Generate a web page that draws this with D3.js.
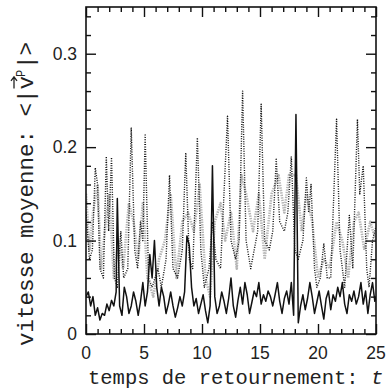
<!DOCTYPE html>
<html>
<head>
<meta charset="utf-8">
<script src="https://cdn.jsdelivr.net/npm/d3@7"></script>
<style>
  body { margin: 0; background: #fff; }
  .tickLabel { font-family: "Liberation Sans", Arial, sans-serif; font-size: 17.5px; fill: #222; }
  .axisTitle { font-family: "Liberation Mono", "DejaVu Sans Mono", monospace; fill: #222; }
</style>
</head>
<body>
<script>

// solid curve: times and values
var solidT = [0, 0.2, 0.4, 0.6, 0.8, 1.0, 1.2, 1.4, 1.6, 1.8, 2.0, 2.2, 2.4, 2.6, 2.7, 2.9,
  3.1, 3.3, 3.5, 3.7, 3.9, 4.1, 4.3, 4.5, 4.7, 4.9, 5.1, 5.3, 5.5, 5.7, 5.9, 6.1, 6.3, 6.5,
  6.7, 6.9, 7.1, 7.3, 7.5, 7.7, 7.9, 8.1, 8.3, 8.5, 8.7, 8.9, 9.1, 9.3, 9.5, 9.7, 9.9, 10.1,
  10.3, 10.5, 10.7, 10.9, 11.1, 11.3, 11.5, 11.7, 11.9, 12.1, 12.3, 12.5, 12.7, 12.9, 13.1,
  13.3, 13.5, 13.7, 13.9, 14.1, 14.3, 14.5, 14.7, 14.9, 15.1, 15.3, 15.5, 15.7, 15.9, 16.1,
  16.3, 16.5, 16.7, 16.9, 17.1, 17.3, 17.5, 17.7, 17.9, 18.1, 18.3, 18.5, 18.7, 18.9, 19.1,
  19.3, 19.5, 19.7, 19.9, 20.1, 20.3, 20.5, 20.7, 20.9, 21.1, 21.3, 21.5, 21.7, 21.9, 22.1,
  22.3, 22.5, 22.7, 22.9, 23.1, 23.3, 23.5, 23.7, 23.9, 24.1, 24.3, 24.5, 24.7, 24.9, 25.0];
var solidV = [0.04, 0.045, 0.03, 0.04, 0.02, 0.028, 0.015, 0.022, 0.02, 0.032, 0.025, 0.036, 0.03, 0.045, 0.145, 0.03,
  0.02, 0.05, 0.04, 0.022, 0.03, 0.045, 0.035, 0.02, 0.035, 0.055, 0.03, 0.045, 0.085, 0.06, 0.1, 0.05, 0.03, 0.05,
  0.04, 0.022, 0.032, 0.045, 0.03, 0.018, 0.028, 0.04, 0.03, 0.045, 0.105, 0.095, 0.05, 0.03, 0.038, 0.022, 0.032, 0.042,
  0.025, 0.012, 0.03, 0.18, 0.04, 0.022, 0.03, 0.045, 0.035, 0.022, 0.038, 0.06, 0.03, 0.018, 0.036,
  0.05, 0.032, 0.055, 0.042, 0.022, 0.034, 0.046, 0.04, 0.055, 0.032, 0.042, 0.035, 0.046, 0.04, 0.03,
  0.042, 0.055, 0.035, 0.022, 0.038, 0.046, 0.032, 0.055, 0.02, 0.235, 0.012, 0.03, 0.042, 0.026, 0.038,
  0.055, 0.04, 0.022, 0.034, 0.046, 0.03, 0.016, 0.038, 0.046, 0.026, 0.042, 0.035, 0.05, 0.04, 0.055,
  0.032, 0.022, 0.042, 0.035, 0.046, 0.032, 0.04, 0.055, 0.032, 0.046, 0.022, 0.042, 0.055, 0.035, 0.04];

// dotted curve: peaks and troughs
var dottedT = [0, 0.3, 0.55, 0.8, 1.0, 1.2, 1.5, 1.75, 1.95, 2.2, 2.45, 2.7, 3.0, 3.25, 3.6, 3.9,
  4.2, 4.45, 4.7, 4.9, 5.1, 5.4, 5.7, 6.2, 6.5, 6.9, 7.2, 7.5, 7.9, 8.3, 8.6, 8.9, 9.2, 9.6,
  9.9, 10.2, 10.6, 10.9, 11.2, 11.6, 12.2, 12.5, 12.9, 13.2, 13.5, 13.8, 14.2, 14.8, 15.1, 15.4,
  15.8, 16.1, 16.4, 16.7, 17.1, 17.4, 17.7, 18.0, 18.3, 18.7, 19.0, 19.2, 19.4, 19.7, 19.9, 20.2,
  20.5, 20.8, 21.1, 21.6, 21.9, 22.3, 22.7, 23.0, 23.4, 23.6, 23.9, 24.2, 24.4, 24.7, 25.0];
var dottedV = [0.13, 0.08, 0.09, 0.178, 0.16, 0.07, 0.06, 0.19, 0.11, 0.189, 0.06, 0.05, 0.11, 0.06, 0.07, 0.221,
  0.09, 0.07, 0.12, 0.1, 0.213, 0.06, 0.05, 0.07, 0.05, 0.08, 0.17, 0.07, 0.06, 0.09, 0.194, 0.08, 0.07, 0.21,
  0.09, 0.05, 0.07, 0.12, 0.08, 0.07, 0.233, 0.1, 0.08, 0.1, 0.26, 0.1, 0.07, 0.11, 0.246, 0.1,
  0.09, 0.11, 0.187, 0.12, 0.11, 0.13, 0.19, 0.09, 0.08, 0.1, 0.167, 0.13, 0.16, 0.07, 0.05, 0.06,
  0.097, 0.06, 0.06, 0.23, 0.09, 0.05, 0.127, 0.07, 0.23, 0.15, 0.18, 0.07, 0.05, 0.1, 0.115];

// grey curve
var greyT = [0, 0.3, 0.6, 1.0, 1.3, 1.7, 2.0, 2.4, 2.8, 3.2, 3.7, 4.1, 4.5, 4.9, 5.3, 5.8, 6.3,
  6.8, 7.3, 7.8, 8.3, 8.8, 9.3, 9.8, 10.3, 10.7, 11.1, 11.6, 12.0, 12.5, 13.0, 13.4, 13.8, 14.4,
  14.9, 15.4, 16.0, 16.6, 17.1, 17.5, 18.1, 18.6, 19.0, 19.5, 20.0, 20.5, 21.0, 21.6, 22.1, 22.6,
  23.1, 23.5, 24.0, 24.5, 25.0];
var greyV = [0.15, 0.09, 0.13, 0.16, 0.07, 0.12, 0.15, 0.06, 0.1, 0.07, 0.14, 0.12, 0.08, 0.14, 0.06, 0.04, 0.08,
  0.1, 0.15, 0.06, 0.12, 0.13, 0.11, 0.16, 0.06, 0.04, 0.12, 0.14, 0.1, 0.13, 0.07, 0.17, 0.15, 0.11,
  0.15, 0.08, 0.15, 0.17, 0.13, 0.17, 0.17, 0.11, 0.15, 0.12, 0.06, 0.08, 0.07, 0.12, 0.1, 0.06,
  0.12, 0.13, 0.09, 0.12, 0.1];

// tick values
var xMajor = [0, 5, 10, 15, 20, 25];
var yMajor = [0, 0.1, 0.2, 0.3];
var yLabels = ["0", "0.1", "0.2", "0.3"];

window.onload = function() {
  drawChart(388, 390);
};

function drawChart(width, height) {

  // plot frame in pixels
  var left = 86, right = 376, top = 7, bottom = 334;

  var xScale = d3.scaleLinear().domain([0, 25]).range([left, right]);
  var yScale = d3.scaleLinear().domain([0, 0.35]).range([bottom, top]);

  var svg = d3.select("body")
              .append("svg")
              .attr("width", width)
              .attr("height", height);

  svg.append("clipPath")
     .attr("id", "plotClip")
     .append("rect")
     .attr("x", left)
     .attr("y", top)
     .attr("width", right - left)
     .attr("height", bottom - top);

  var plot = svg.append("g").attr("clip-path", "url(#plotClip)");

  // grey curve first so the black ones sit on top
  drawLine(plot, greyT, greyV, xScale, yScale, "#b4b4b4", 2.6, "1.4,1.1");
  drawLine(plot, dottedT, dottedV, xScale, yScale, "#111", 1.4, "1,1.4");
  drawLine(plot, solidT, solidV, xScale, yScale, "#111", 1.5, null);

  drawFrame(svg, xScale, yScale, left, right, top, bottom);
  drawTitles(svg);
}

function drawLine(g, ts, vs, xScale, yScale, color, w, dash) {
  var line = d3.line()
               .x(function(d, i) { return xScale(ts[i]); })
               .y(function(d) { return yScale(d); });

  var path = g.append("path")
              .datum(vs)
              .attr("d", line)
              .attr("fill", "none")
              .attr("stroke", color)
              .attr("stroke-width", w)
              .attr("stroke-linejoin", "round");
  if (dash) {
    path.attr("stroke-dasharray", dash);
  }
}

function drawFrame(svg, xScale, yScale, left, right, top, bottom) {

  var xMinor = d3.range(0, 26, 1).filter(function(d) { return d % 5 != 0; });
  var yMinor = d3.range(0.02, 0.35, 0.02).filter(function(d) {
    return Math.abs(d * 10 - Math.round(d * 10)) > 0.01;
  });

  // ticks point inwards on all four sides, so axes get negative tick sizes
  svg.append("g")
     .attr("transform", "translate(0," + bottom + ")")
     .call(d3.axisBottom(xScale).tickValues(xMinor).tickSize(-5).tickFormat(""));
  svg.append("g")
     .attr("transform", "translate(0," + bottom + ")")
     .call(d3.axisBottom(xScale).tickValues(xMajor).tickSize(-10).tickFormat(""));
  svg.append("g")
     .attr("transform", "translate(0," + top + ")")
     .call(d3.axisTop(xScale).tickValues(xMinor).tickSize(-5).tickFormat(""));
  svg.append("g")
     .attr("transform", "translate(0," + top + ")")
     .call(d3.axisTop(xScale).tickValues(xMajor).tickSize(-10).tickFormat(""));

  svg.append("g")
     .attr("transform", "translate(" + left + ",0)")
     .call(d3.axisLeft(yScale).tickValues(yMinor).tickSize(-5).tickFormat(""));
  svg.append("g")
     .attr("transform", "translate(" + left + ",0)")
     .call(d3.axisLeft(yScale).tickValues(yMajor).tickSize(-10).tickFormat(""));
  svg.append("g")
     .attr("transform", "translate(" + right + ",0)")
     .call(d3.axisRight(yScale).tickValues(yMinor).tickSize(-5).tickFormat(""));
  svg.append("g")
     .attr("transform", "translate(" + right + ",0)")
     .call(d3.axisRight(yScale).tickValues(yMajor).tickSize(-10).tickFormat(""));

  svg.selectAll(".domain").remove();
  svg.selectAll(".tick line").attr("stroke", "#111").attr("stroke-width", 1.4);

  // frame box
  svg.append("rect")
     .attr("x", left)
     .attr("y", top)
     .attr("width", right - left)
     .attr("height", bottom - top)
     .attr("fill", "none")
     .attr("stroke", "#111")
     .attr("stroke-width", 1.6);

  // tick labels
  svg.selectAll(".xLabel")
     .data(xMajor)
     .enter()
     .append("text")
     .attr("class", "tickLabel")
     .attr("x", function(d) { return xScale(d); })
     .attr("y", bottom + 25)
     .attr("text-anchor", "middle")
     .text(function(d) { return d; });

  svg.selectAll(".yLabel")
     .data(yMajor)
     .enter()
     .append("text")
     .attr("class", "tickLabel")
     .attr("x", left - 9)
     .attr("y", function(d) { return yScale(d) + 6; })
     .attr("text-anchor", "end")
     .text(function(d, i) { return yLabels[i]; });
}

function drawTitles(svg) {

  // x-axis title
  svg.append("text")
     .attr("class", "axisTitle")
     .attr("x", 88)
     .attr("y", 384)
     .attr("font-size", "20.5px")
     .text("temps de retournement: ")
     .append("tspan")
     .attr("font-style", "italic")
     .text("t");

  // y-axis title, rotated, with a vector arrow over v and superscript P
  var g = svg.append("g").attr("transform", "translate(33,346) rotate(-90)");

  var prefix = g.append("text")
                .attr("class", "axisTitle")
                .attr("x", 0)
                .attr("y", 0)
                .attr("font-size", "22.5px")
                .text("vitesse moyenne: <|");
  var px = prefix.node().getComputedTextLength();

  var v = g.append("text")
           .attr("class", "axisTitle")
           .attr("x", px)
           .attr("y", 0)
           .attr("font-size", "22.5px")
           .text("v");
  var vw = v.node().getComputedTextLength();

  g.append("text")
   .attr("class", "axisTitle")
   .attr("x", px + vw - 1)
   .attr("y", -8)
   .attr("font-size", "12px")
   .text("P");

  g.append("text")
   .attr("class", "axisTitle")
   .attr("x", px + vw + 7)
   .attr("y", 0)
   .attr("font-size", "22.5px")
   .text("|>");

  // arrow over v
  g.append("path")
   .attr("d", "M" + (px + 1) + ",-19 L" + (px + vw - 1) + ",-19 M" + (px + vw - 5) + ",-22 L" + (px + vw - 1) + ",-19 L" + (px + vw - 5) + ",-16")
   .attr("fill", "none")
   .attr("stroke", "#222")
   .attr("stroke-width", 1.3);
}

</script>
</body>
</html>
